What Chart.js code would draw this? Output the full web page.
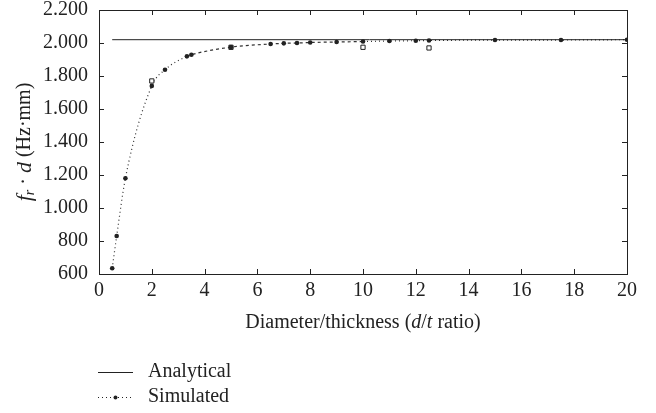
<!DOCTYPE html>
<html>
<head>
<meta charset="utf-8">
<script src="https://cdn.jsdelivr.net/npm/chart.js@4.4.1/dist/chart.umd.min.js"></script>
<style>
  html, body { margin: 0; padding: 0; background: #fff; }
  #wrap { width: 656px; height: 413px; position: relative; }
</style>
</head>
<body>
<div id="wrap"><canvas id="resonanceChart"></canvas></div>
<script>
// d/t ratio vs f_r * d (Hz.mm)
const dtRatio   = [0.5, 0.67, 1, 2, 2.5, 3.33, 3.5, 5, 6.5, 7, 7.5, 8, 9, 10, 11, 12, 12.5, 15, 17.5, 20];
const simulated = [635, 830, 1180, 1740, 1838, 1919, 1929, 1975, 1994, 1998, 2000, 2003, 2006, 2009, 2012, 2014, 2015, 2018, 2018, 2020];

const analyticalX = [0.5, 20];
const analyticalY = [2020, 2020];

const squareX = [2, 5, 10, 12.5];
const squareY = [1770, 1974, 1974, 1970];

const xTicks = [0, 2, 4, 6, 8, 10, 12, 14, 16, 18, 20];
const yTicks = [600, 800, 1000, 1200, 1400, 1600, 1800, 2000, 2200];

const serif = "'Liberation Serif', 'DejaVu Serif', serif";
const fontSize = 20;

function fmtThousands(v){
  return String(v).replace(/\B(?=(\d{3})+(?!\d))/g, '.');
}

function zip(xs, ys){
  return xs.map(function(x, i){ return { x: x, y: ys[i] }; });
}

// draw text pieces with mixed style, returns total width
function drawRich(ctx, parts, x, y, measureOnly){
  let cx = x;
  parts.forEach(function(p){
    ctx.font = (p.italic ? 'italic ' : '') + (p.size || fontSize) + 'px ' + serif;
    if(!measureOnly){
      ctx.fillText(p.t, cx, y + (p.dy || 0));
    }
    cx += ctx.measureText(p.t).width;
  });
  return cx - x;
}

const framePlugin = {
  id: 'frame',
  afterDraw(chart){
    const ctx = chart.ctx;
    const a = chart.chartArea;
    const xs = chart.scales.x, ys = chart.scales.y;
    ctx.save();
    ctx.strokeStyle = '#222';
    ctx.lineWidth = 1;
    ctx.strokeRect(Math.round(a.left) + 0.5, Math.round(a.top) + 0.5, Math.round(a.right - a.left), Math.round(a.bottom - a.top));

    // inward ticks on all sides
    ctx.beginPath();
    xTicks.forEach(function(v){
      const px = Math.round(xs.getPixelForValue(v)) + 0.5;
      ctx.moveTo(px, a.bottom); ctx.lineTo(px, a.bottom - 5);
      ctx.moveTo(px, a.top); ctx.lineTo(px, a.top + 5);
    });
    yTicks.forEach(function(v){
      const py = Math.round(ys.getPixelForValue(v)) + 0.5;
      ctx.moveTo(a.left, py); ctx.lineTo(a.left + 5, py);
      ctx.moveTo(a.right, py); ctx.lineTo(a.right - 5, py);
    });
    ctx.stroke();

    ctx.fillStyle = '#222';
    ctx.textBaseline = 'middle';

    // x axis title
    const xParts = [
      { t: 'Diameter/thickness (' }, { t: 'd', italic: true }, { t: '/' },
      { t: 't', italic: true }, { t: ' ratio)' }
    ];
    const xw = drawRich(ctx, xParts, 0, 0, true);
    drawRich(ctx, xParts, (a.left + a.right) / 2 - xw / 2, 323);

    // y axis title, rotated
    const yParts = [
      { t: 'f', italic: true, size: 22 }, { t: 'r', italic: true, size: 14, dy: 5 },
      { t: ' · ', size: 20 }, { t: 'd', italic: true, size: 22 }, { t: ' (Hz·mm)' }
    ];
    ctx.save();
    ctx.translate(25, (a.top + a.bottom) / 2);
    ctx.rotate(-Math.PI / 2);
    const yw = drawRich(ctx, yParts, 0, 0, true);
    drawRich(ctx, yParts, -yw / 2, 0);
    ctx.restore();

    // legend
    ctx.font = fontSize + 'px ' + serif;
    ctx.textAlign = 'left';
    ctx.beginPath();
    ctx.moveTo(98, 372.5); ctx.lineTo(133, 372.5);
    ctx.stroke();
    ctx.fillText('Analytical', 148, 372);

    ctx.setLineDash([1, 3]);
    ctx.beginPath();
    ctx.moveTo(98, 397.5); ctx.lineTo(133, 397.5);
    ctx.stroke();
    ctx.setLineDash([]);
    ctx.beginPath();
    ctx.arc(115.5, 397.5, 2, 0, Math.PI * 2);
    ctx.fill();
    ctx.fillText('Simulated', 148, 397);
    ctx.restore();
  }
};

const ctx = document.getElementById('resonanceChart');

new Chart(ctx, {
  type: 'scatter',
  data: {
    datasets: [
      {
        label: 'Analytical',
        data: zip(analyticalX, analyticalY),
        showLine: true,
        borderColor: '#222',
        borderWidth: 1,
        pointRadius: 0
      },
      {
        label: 'Simulated',
        data: zip(dtRatio, simulated),
        showLine: true,
        borderColor: '#333',
        borderWidth: 1.2,
        borderDash: [1, 3],
        cubicInterpolationMode: 'monotone',
        segment: {
          borderDash: function(c){
            const x0 = c.p0.parsed.x;
            return (x0 >= 3 && x0 < 10) ? [3, 3] : [1, 3];
          }
        },
        pointRadius: 2.3,
        pointBackgroundColor: '#222',
        pointBorderColor: '#222',
        pointBorderWidth: 0
      },
      {
        label: 'Simulated (mesh)',
        data: zip(squareX, squareY),
        showLine: false,
        pointStyle: 'rect',
        pointRadius: 3,
        pointBackgroundColor: '#fff',
        pointBorderColor: '#222',
        pointBorderWidth: 1
      }
    ]
  },
  options: {
    responsive: true,
    maintainAspectRatio: false,
    animation: false,
    layout: { padding: { left: 0, right: 29, top: 10, bottom: 80 } },
    plugins: {
      legend: { display: false },
      tooltip: { enabled: false }
    },
    scales: {
      x: {
        type: 'linear',
        min: 0, max: 20,
        border: { display: false },
        grid: { display: false, drawTicks: false },
        afterBuildTicks: function(s){ s.ticks = xTicks.map(function(v){ return { value: v }; }); },
        afterFit: function(s){ s.height = 59; s.paddingLeft = 0; s.paddingRight = 0; },
        ticks: {
          padding: 5,
          color: '#222',
          font: { family: serif, size: fontSize },
          maxRotation: 0
        }
      },
      y: {
        min: 600, max: 2200,
        border: { display: false },
        grid: { display: false, drawTicks: false },
        afterBuildTicks: function(s){ s.ticks = yTicks.map(function(v){ return { value: v }; }); },
        afterFit: function(s){ s.width = 99; s.paddingTop = 0; s.paddingBottom = 0; },
        ticks: {
          padding: 11,
          color: '#222',
          font: { family: serif, size: fontSize },
          callback: function(v){ return fmtThousands(v); }
        }
      }
    }
  },
  plugins: [framePlugin]
});
</script>
</body>
</html>
